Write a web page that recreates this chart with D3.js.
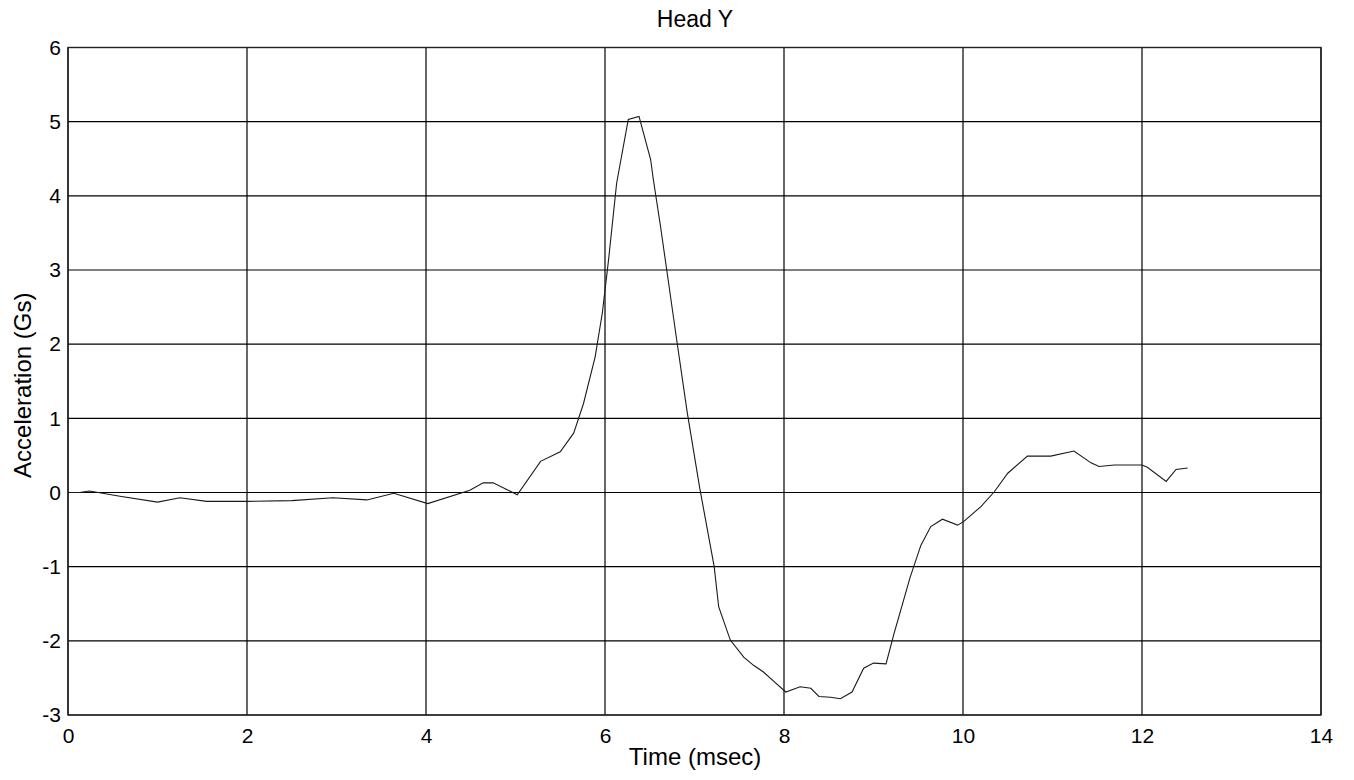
<!DOCTYPE html>
<html>
<head>
<meta charset="utf-8">
<script src="https://cdn.jsdelivr.net/npm/d3@7"></script>
<style>
  body { margin: 0; background: #fff; }
  svg text { font-family: "Liberation Sans", Arial, sans-serif; fill: #000; }
</style>
</head>
<body>
<svg id="chart" width="1354" height="780"></svg>
<script>
// Head Y acceleration trace.
const timeMs = [0, 0.13, 0.24, 0.58, 1.0, 1.25, 1.55, 2.0, 2.5, 2.96, 3.34, 3.64, 4.02, 4.49,
  4.64, 4.75, 5.02, 5.28, 5.5, 5.65, 5.76, 5.89, 5.97, 6.04, 6.13, 6.26, 6.38, 6.51, 6.54,
  6.62, 6.69, 6.79, 6.92, 7.06, 7.22, 7.27, 7.4, 7.55, 7.66, 7.77, 7.89, 8.02, 8.18, 8.3,
  8.39, 8.52, 8.63, 8.76, 8.89, 9.0, 9.14, 9.23, 9.41, 9.53, 9.64, 9.77, 9.94, 10.01, 10.2,
  10.35, 10.5, 10.72, 10.98, 11.24, 11.43, 11.52, 11.69, 12.0, 12.06, 12.27, 12.38, 12.51];
const accelG = [0, 0, 0.02, -0.05, -0.13, -0.07, -0.12, -0.12, -0.11, -0.07, -0.1, -0.01, -0.15, 0.03,
  0.13, 0.13, -0.03, 0.42, 0.55, 0.8, 1.2, 1.83, 2.42, 3.14, 4.17, 5.03, 5.07, 4.49, 4.22,
  3.59, 3.0, 2.15, 1.07, 0.05, -1.0, -1.54, -1.99, -2.22, -2.33, -2.42, -2.55, -2.69, -2.62, -2.64,
  -2.75, -2.76, -2.78, -2.69, -2.37, -2.3, -2.31, -1.9, -1.14, -0.71, -0.46, -0.36, -0.44, -0.39, -0.19,
  0.01, 0.26, 0.49, 0.49, 0.56, 0.4, 0.35, 0.37, 0.37, 0.34, 0.15, 0.31, 0.33];
const xTicks = [0, 2, 4, 6, 8, 10, 12, 14];
const yTicks = [-3, -2, -1, 0, 1, 2, 3, 4, 5, 6];

const svg = d3.select("#chart");
const plotL = 68, plotR = 1321, plotT = 47.5, plotB = 715;

const x = d3.scaleLinear().domain([0, 14]).range([plotL, plotR]);
const y = d3.scaleLinear().domain([-3, 6]).range([plotB, plotT]);

// grid
const grid = svg.append("g").attr("stroke", "#000").attr("stroke-width", 1.2);
grid.selectAll("line.v").data(xTicks).enter().append("line")
  .attr("x1", d => x(d)).attr("x2", d => x(d)).attr("y1", plotT).attr("y2", plotB);
grid.selectAll("line.h").data(yTicks).enter().append("line")
  .attr("x1", plotL).attr("x2", plotR).attr("y1", d => y(d)).attr("y2", d => y(d));

svg.append("rect")
  .attr("x", plotL).attr("y", plotT).attr("width", plotR - plotL).attr("height", plotB - plotT)
  .attr("fill", "none").attr("stroke", "#222").attr("stroke-width", 1.4);

// axes (labels only, grid covers ticks); plain hyphen for negatives like the original
const fmt = d => String(d);
const xAxis = svg.append("g").attr("transform", `translate(0,${plotB})`)
  .call(d3.axisBottom(x).tickValues(xTicks).tickSize(0).tickPadding(13).tickFormat(fmt));
const yAxis = svg.append("g").attr("transform", `translate(${plotL},0)`)
  .call(d3.axisLeft(y).tickValues(yTicks).tickSize(0).tickPadding(7).tickFormat(fmt));
[xAxis, yAxis].forEach(a => {
  a.select(".domain").remove();
  a.attr("font-size", 21).attr("font-family", "Liberation Sans, Arial, sans-serif");
  a.selectAll("text").attr("font-size", 21);
});

// trace
const pts = timeMs.map((t, i) => [t, accelG[i]]);
svg.append("path")
  .datum(pts)
  .attr("fill", "none")
  .attr("stroke", "#1a1a1a")
  .attr("stroke-width", 1.1)
  .attr("d", d3.line().x(d => x(d[0])).y(d => y(d[1])));

// titles
svg.append("text").attr("x", 695).attr("y", 27)
  .attr("text-anchor", "middle").attr("font-size", 23).text("Head Y");
svg.append("text").attr("x", 695).attr("y", 765)
  .attr("text-anchor", "middle").attr("font-size", 24).text("Time (msec)");
svg.append("text")
  .attr("transform", `translate(31,${(plotT + plotB) / 2 + 4}) rotate(-90)`)
  .attr("text-anchor", "middle").attr("font-size", 24).text("Acceleration (Gs)");
</script>
</body>
</html>
